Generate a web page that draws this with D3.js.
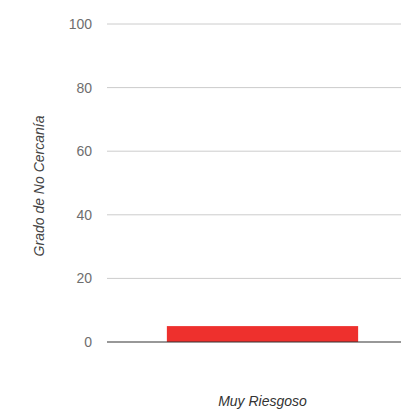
<!DOCTYPE html>
<html><head><meta charset="utf-8">
<script src="https://cdn.jsdelivr.net/npm/d3@7"></script>
<style>body{margin:0;background:#fff}svg{display:block;font-family:"Liberation Sans",Arial,sans-serif}</style>
</head><body><svg id="c" width="401" height="414"></svg>
<script>
const categories = ["Muy Riesgoso"];
const values = [5];
const yTicks = [0, 20, 40, 60, 80, 100];
const titleText = "Riesgo";
const yTitle = "Grado de No Cercanía";

const svg = d3.select("#c");
const FONT = "'Liberation Sans', Arial, sans-serif";
const mLeft = 107, mRight = 418, mTop = 24, mBottom = 342;
const x = d3.scaleBand().domain(categories).range([mLeft, mRight]).paddingInner(0.385).paddingOuter(0.1925);
const y = d3.scaleLinear().domain([0, 100]).range([mBottom, mTop]);

svg.append("text").attr("x", 164).attr("y", -3).attr("font-size", 17).attr("font-weight", "bold")
  .attr("font-family", FONT).attr("fill", "#000").text(titleText);

const g = svg.append("g");
g.selectAll("line.grid").data(yTicks.filter(d => d !== 0)).join("line")
  .attr("x1", mLeft).attr("x2", 401).attr("y1", d => y(d)).attr("y2", d => y(d))
  .attr("stroke", "#cccccc").attr("stroke-width", 1);

const yAxis = d3.axisLeft(y).tickValues(yTicks).tickSize(0).tickPadding(15);
const ya = svg.append("g").attr("transform", `translate(${mLeft},0)`).call(yAxis);
ya.attr("font-family", FONT).attr("font-size", 14);
ya.select(".domain").remove();
ya.selectAll("text").attr("fill", "#6e6e6e");

svg.selectAll("rect.bar").data(values).join("rect")
  .attr("x", (d, i) => x(categories[i])).attr("width", x.bandwidth())
  .attr("y", d => y(d)).attr("height", d => y(0) - y(d)).attr("fill", "#ee302d");

svg.append("line").attr("x1", mLeft).attr("x2", 401).attr("y1", y(0)).attr("y2", y(0)).attr("stroke", "#333").attr("stroke-width", 1.2);

const xAxis = d3.axisBottom(x).tickSize(0).tickPadding(54);
const xa = svg.append("g").attr("transform", `translate(0,${mBottom})`).call(xAxis);
xa.attr("font-family", FONT).attr("font-size", 14);
xa.select(".domain").remove();
xa.selectAll("text").attr("font-style", "italic").attr("fill", "#333");

svg.append("text").attr("transform", `translate(44,${(mTop+mBottom)/2 + 3}) rotate(-90)`)
  .attr("text-anchor", "middle").attr("font-family", FONT).attr("font-size", 14)
  .attr("font-style", "italic").attr("fill", "#444").text(yTitle);
</script></body></html>
